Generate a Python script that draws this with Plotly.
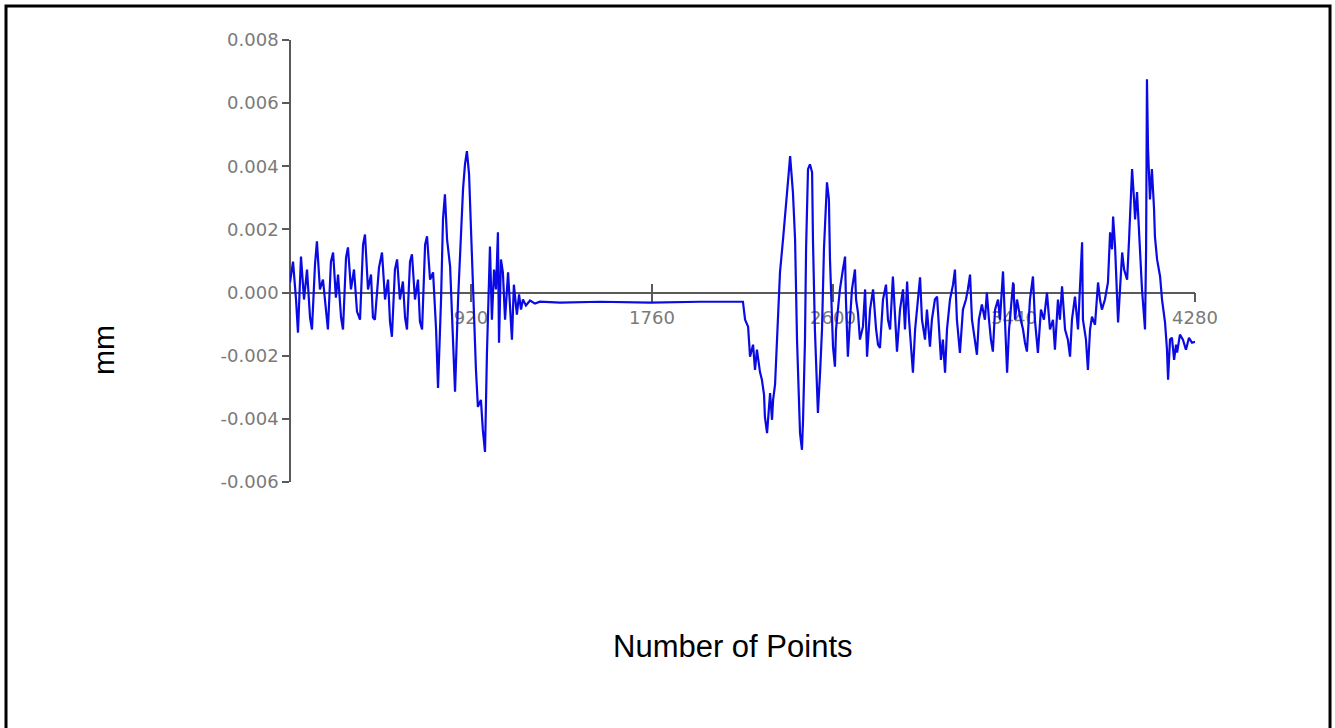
import plotly.graph_objects as go

# Sample index (Number of Points) and displacement (mm)
points = [
    80, 94, 108, 117, 131, 145, 159, 173, 182, 196, 205, 219, 233, 247, 256, 270, 280, 293, 303, 317,
    326, 340, 349, 363, 377, 391, 405, 419, 428, 442, 456, 465, 474, 493, 507, 521, 535, 544, 553, 567,
    577, 590, 604, 614, 623, 637, 646, 660, 674, 683, 693, 707, 716, 730, 744, 758, 767, 781, 790, 799,
    809, 823, 836, 846, 860, 869, 883, 892, 901, 911, 915, 929, 943, 952, 966, 975, 985, 994, 1003, 1008,
    1017, 1027, 1036, 1045, 1050, 1059, 1068, 1078, 1092, 1101, 1110, 1119, 1124, 1133, 1143, 1152, 1161, 1175, 1194, 1217,
    1240, 1333, 1519, 1751, 1983, 2182,
    2192, 2206, 2215, 2229, 2238, 2247, 2261, 2270, 2280, 2284, 2294, 2303, 2308, 2317, 2322, 2331, 2340, 2354, 2368, 2377,
    2387, 2396, 2401, 2410, 2414, 2424, 2433, 2442, 2447, 2456, 2461, 2470, 2475, 2484, 2493, 2503, 2507, 2516, 2530, 2540,
    2549, 2558, 2572, 2581, 2586, 2600, 2609, 2614, 2623, 2632, 2646, 2656, 2660, 2669, 2679, 2688, 2702, 2707, 2716, 2725,
    2739,
    2749, 2758, 2772, 2786, 2800, 2809, 2818, 2832, 2846, 2855, 2865, 2878, 2888, 2897, 2911, 2925, 2934, 2944, 2953, 2962,
    2971, 2981, 2994, 3004, 3013, 3027, 3036, 3050, 3059, 3073, 3083, 3092, 3101, 3110, 3120, 3129, 3143, 3157, 3166, 3175,
    3185, 3189, 3203, 3217, 3226, 3236, 3245, 3259, 3268, 3277, 3291, 3305, 3314, 3324, 3333, 3342, 3352, 3366, 3375, 3389,
    3398, 3408, 3417, 3426, 3436, 3445, 3454, 3468, 3482, 3491, 3500, 3514, 3528, 3537, 3551, 3565, 3579, 3593, 3607, 3621,
    3630, 3644, 3653, 3663, 3677, 3690, 3700, 3709, 3723, 3737, 3746, 3756, 3760, 3774, 3783, 3793, 3802, 3816, 3830, 3839,
    3848, 3862, 3876, 3886, 3895, 3900, 3909, 3923, 3932, 3942, 3951, 3965, 3974, 3983, 3988, 3997, 4002, 4011, 4020, 4025,
    4034, 4048, 4053, 4057, 4062, 4071, 4080, 4090, 4094, 4104, 4118, 4127, 4141, 4150, 4155, 4164, 4173, 4183, 4192, 4197,
    4210, 4224, 4238, 4252, 4266, 4280,
]

mm = [
    0.00032, 0.00098, -0.00022, -0.00127, 0.00114, -0.00022, 0.00073, -0.00079, -0.00117, 0.00089,
    0.00162, 0.00010, 0.00041, -0.00054, -0.00117, 0.00098, 0.00127, -0.00016, 0.00057, -0.00079,
    -0.00117, 0.00111, 0.00143, 0.00010, 0.00073, -0.00060, -0.00086, 0.00152, 0.00184, 0.00010,
    0.00057, -0.00079, -0.00086, 0.00079, 0.00127, -0.00022, 0.00041, -0.00092, -0.00140, 0.00073,
    0.00105, -0.00022, 0.00035, -0.00079, -0.00117, 0.00098, 0.00121, -0.00022, 0.00041, -0.00092,
    -0.00117, 0.00152, 0.00178, 0.00041, 0.00064, -0.00117, -0.00302, -0.00022, 0.00232, 0.00311,
    0.00168, 0.00083, -0.00149, -0.00314, -0.00022, 0.00137, 0.00327, 0.00406, 0.00448, 0.00375,
    0.00295, 0.00010, -0.00245, -0.00362, -0.00340, -0.00435, -0.00505, -0.00191, 0.00040, 0.00146,
    -0.00086, 0.00073, 0.00010, 0.00191, -0.00159, 0.00105, 0.00064, -0.00086, 0.00064, -0.00054,
    -0.00149, 0.00025, -0.00013, -0.00070, -0.00006, -0.00054, -0.00022, -0.00041, -0.00025, -0.00035,
    -0.00029, -0.00032, -0.00029, -0.00032, -0.00029, -0.00029,
    -0.00086, -0.00108, -0.00203, -0.00165, -0.00245, -0.00181, -0.00251, -0.00276, -0.00324, -0.00394,
    -0.00445, -0.00356, -0.00318, -0.00403, -0.00340, -0.00292, -0.00149, 0.00064, 0.00168, 0.00232,
    0.00327, 0.00391, 0.00432, 0.00359, 0.00318, 0.00168, -0.00149, -0.00340, -0.00445, -0.00498,
    -0.00403, -0.00149, 0.00137, 0.00391, 0.00406, 0.00381, 0.00168, -0.00117, -0.00381, -0.00254,
    -0.00117, 0.00137, 0.00349, 0.00295, 0.00105, -0.00171, -0.00235, -0.00117, -0.00044, 0.00010,
    0.00073, 0.00114, -0.00022, -0.00203, -0.00086, 0.00010, 0.00073, -0.00022, -0.00064, -0.00149,
    -0.00108,
    0.00010, -0.00203, -0.00054, 0.00010, -0.00117, -0.00165, -0.00175, -0.00022, 0.00025, -0.00086,
    -0.00117, 0.00051, -0.00086, -0.00187, -0.00054, 0.00010, -0.00117, 0.00035, -0.00086, -0.00181,
    -0.00254, -0.00117, -0.00022, 0.00048, -0.00086, -0.00149, -0.00054, -0.00171, -0.00086, -0.00022,
    -0.00013, -0.00117, -0.00213, -0.00149, -0.00254, -0.00117, -0.00022, 0.00025, 0.00073, -0.00086,
    -0.00149, -0.00191, -0.00054, -0.00022, 0.00010, 0.00057, -0.00086, -0.00165, -0.00197, -0.00086,
    -0.00038, -0.00086, 0.00000, -0.00086, -0.00149, -0.00187, -0.00054, -0.00022, -0.00086, 0.00067,
    -0.00117, -0.00254, -0.00117, -0.00054, 0.00032, -0.00086, -0.00022, -0.00076, -0.00117, -0.00159,
    -0.00187, -0.00022, 0.00051, -0.00086, -0.00191, -0.00054, -0.00086, 0.00000, -0.00117, -0.00086,
    -0.00181, -0.00022, -0.00086, 0.00020, -0.00117, -0.00149, -0.00203, -0.00086, -0.00013, -0.00117,
    0.00010, 0.00159, -0.00086, -0.00149, -0.00245, -0.00117, -0.00076, -0.00102, 0.00032, -0.00022,
    -0.00054, -0.00022, 0.00032, 0.00191, 0.00137, 0.00241, 0.00146, -0.00095, 0.00010, 0.00127,
    0.00073, 0.00041, 0.00168, 0.00295, 0.00391, 0.00295, 0.00232, 0.00318, 0.00200, 0.00105,
    0.00010, -0.00117, 0.00137, 0.00676, 0.00454, 0.00295, 0.00391, 0.00264, 0.00178, 0.00105,
    0.00051, -0.00022, -0.00095, -0.00181, -0.00276, -0.00149, -0.00143, -0.00213, -0.00165, -0.00190,
    -0.00133, -0.00149, -0.00181, -0.00143, -0.00159, -0.00156,
]

x_tick_vals = [920, 1760, 2600, 3440, 4280]
x_tick_text = ["920", "1760", "2600", "3440", "4280"]
y_tick_vals = [-0.006, -0.004, -0.002, 0.0, 0.002, 0.004, 0.006, 0.008]
y_tick_text = ["-0.006", "-0.004", "-0.002", "0.000", "0.002", "0.004", "0.006", "0.008"]

x_range = [80, 4280]
y_range = [-0.006, 0.008]
zero_pos = (0 - y_range[0]) / (y_range[1] - y_range[0])

axis_col = "#5a5a5a"
label_col = "#7a7a7a"
tick_font = dict(family="DejaVu Sans", size=18, color=label_col)

fig = go.Figure()
fig.add_trace(go.Scatter(
    x=points, y=mm, mode="lines",
    line=dict(color="rgb(10,10,228)", width=2.2),
    showlegend=False, hoverinfo="skip",
))

fig.update_layout(
    width=1335, height=728,
    margin=dict(l=290, r=140, t=40, b=246),
    paper_bgcolor="white", plot_bgcolor="white",
    xaxis=dict(
        range=x_range, anchor="free", position=zero_pos,
        showline=True, linecolor=axis_col, linewidth=1.5,
        ticks="outside", ticklen=9, tickwidth=1.5, tickcolor=axis_col,
        tickvals=x_tick_vals, ticktext=x_tick_text, tickfont=tick_font,
        showgrid=False, zeroline=False, layer="below traces",
    ),
    xaxis2=dict(
        range=x_range, overlaying="x", anchor="free", position=zero_pos,
        showline=False, ticks="inside", ticklen=9, tickwidth=1.5, tickcolor=axis_col,
        tickvals=x_tick_vals, showticklabels=False,
        showgrid=False, zeroline=False, layer="below traces",
    ),
    yaxis=dict(
        range=y_range, anchor="free", position=0,
        showline=True, linecolor=axis_col, linewidth=1.5,
        ticks="outside", ticklen=7, tickwidth=1.5, tickcolor=axis_col,
        tickvals=y_tick_vals, ticktext=y_tick_text, tickfont=tick_font,
        showgrid=False, zeroline=False, layer="below traces",
    ),
    annotations=[
        dict(text="mm", xref="paper", yref="paper", x=-0.2066, y=0.2986,
             xanchor="center", yanchor="middle",
             textangle=-90, showarrow=False,
             font=dict(family="Liberation Sans, Arial", size=30, color="black")),
        dict(text="Number of Points", xref="paper", yref="paper", x=0.490, y=-0.3733,
             xanchor="center", yanchor="middle",
             showarrow=False,
             font=dict(family="Liberation Sans, Arial", size=31, color="black")),
    ],
    shapes=[
        dict(type="rect", xref="paper", yref="paper",
             x0=-0.3138, x1=1.1492, y0=-0.60, y1=1.0769,
             line=dict(color="black", width=3), fillcolor="rgba(0,0,0,0)", layer="above"),
    ],
)

# dummy trace to activate xaxis2 ticks
fig.add_trace(go.Scatter(x=[None], y=[None], xaxis="x2", showlegend=False, hoverinfo="skip"))

fig.write_html("out.html")
